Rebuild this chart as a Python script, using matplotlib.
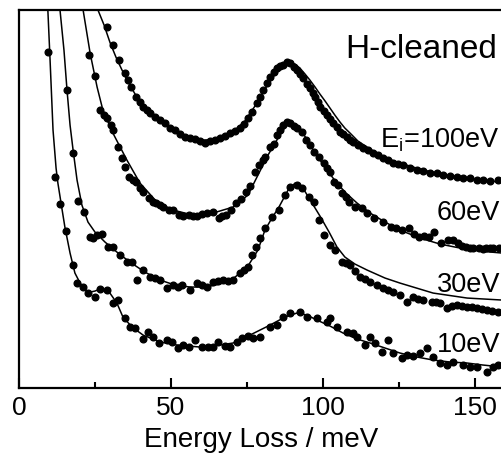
import numpy as np
import matplotlib
matplotlib.use("Agg")
import matplotlib.pyplot as plt

plt.rcParams['font.family'] = ['Liberation Sans', 'DejaVu Sans']

# measured spectra (energy loss in meV, intensity in arb. units, already offset)
e100_x = [28.9, 30.9, 32.9, 34.9, 35.9, 36.8, 38.5, 39.8, 40.8, 42.1, 43.1, 44.7, 46.4, 48.0, 49.7,
          51.3, 53.0, 54.6, 56.3, 57.9, 59.5, 61.2, 62.8, 64.5, 66.1, 67.8, 69.4, 71.1, 72.7, 74.0,
          75.3, 76.6, 78.3, 79.3, 80.3, 81.6, 82.6, 83.9, 84.9, 85.9, 86.8, 88.2, 89.1, 90.5, 91.4,
          92.4, 93.4, 94.7, 95.7, 96.7, 97.4, 98.4, 99.0, 100.3, 101.3, 102.3, 103.3, 104.6, 105.6,
          106.6, 107.9, 108.9, 109.9, 111.5, 113.2, 114.8, 116.4, 118.1, 119.7, 121.4, 123.0, 124.7,
          126.3, 128.6, 130.9, 132.9, 135.2, 137.5, 139.5, 141.8, 144.1, 146.1, 148.4, 150.7, 152.6,
          154.9, 157.6]
e100_y = [361, 343, 328, 315, 308, 301, 291, 286, 281, 278, 275, 271, 268, 265, 260,
          258, 254, 251, 250, 249, 247, 245, 247, 248, 250, 252, 255, 257, 260, 264,
          270, 276, 285, 291, 298, 305, 311, 316, 320, 322, 323, 326, 325, 321, 318,
          314, 310, 304, 300, 295, 291, 286, 281, 277, 273, 269, 265, 261, 256,
          254, 251, 248, 246, 243, 240, 238, 235, 233, 230, 228, 225, 224,
          223, 220, 218, 217, 215, 215, 213, 212, 211, 210, 210, 208, 208,
          207, 208]

e60_x = [23.0, 25.0, 26.6, 28.0, 28.9, 30.3, 30.9, 32.6, 33.9, 34.9, 36.2, 37.5, 38.5, 39.8, 40.8,
         42.8, 44.1, 45.1, 46.4, 47.4, 49.3, 50.7, 52.6, 53.9, 55.9, 57.2, 58.6, 60.2, 61.8, 63.8,
         65.8, 66.8, 68.1, 69.7, 71.4, 73.0, 74.7, 76.0, 77.6, 78.9, 80.3, 80.9, 82.6, 83.9, 84.9,
         85.9, 86.8, 88.2, 89.1, 90.5, 91.4, 93.1, 94.4, 95.7, 97.0, 98.7, 100.3, 101.3, 102.3,
         103.6, 104.9, 106.3, 107.6, 108.6, 110.5, 112.8, 114.5, 116.8, 119.7, 122.4, 124.0, 126.0,
         128.3, 129.9, 131.6, 133.2, 134.9, 136.5, 138.8, 141.1, 142.8, 144.4, 145.7, 147.0, 148.4,
         149.3, 151.3, 152.6, 153.6, 154.9, 155.9, 157.9]
e60_y = [333, 312, 278, 273, 270, 263, 258, 241, 230, 221, 211, 208, 206, 200, 196,
         190, 186, 185, 183, 181, 178, 178, 173, 172, 173, 172, 172, 174, 175, 176,
         170, 172, 173, 178, 185, 189, 196, 202, 216, 223, 228, 231, 241, 244, 253,
         258, 263, 266, 265, 262, 260, 256, 248, 243, 236, 231, 225, 220, 216,
         206, 203, 195, 191, 186, 181, 180, 175, 170, 166, 161, 160, 158,
         160, 154, 151, 152, 151, 156, 145, 148, 148, 145, 142, 141, 140,
         140, 140, 139, 140, 140, 140, 140]

e30_x = [15.8, 17.8, 19.4, 21.4, 23.4, 24.3, 25.7, 27.3, 29.3, 30.9, 33.2, 35.5, 37.2, 38.8, 40.8,
         43.1, 44.7, 46.4, 48.7, 50.7, 52.3, 53.6, 56.3, 58.6, 60.2, 61.8, 63.8, 65.5, 67.1, 68.8,
         70.4, 72.7, 74.0, 75.3, 76.6, 78.0, 79.3, 80.9, 83.2, 85.5, 87.5, 89.1, 91.4, 93.1, 95.4,
         97.0, 98.7, 100.3, 102.3, 103.9, 106.3, 107.6, 108.9, 110.5, 112.2, 113.8, 115.5, 117.8,
         119.7, 121.4, 123.0, 125.3, 127.6, 129.6, 131.3, 132.9, 135.9, 137.2, 138.5, 140.8, 142.4,
         144.1, 145.7, 147.4, 149.0, 150.7, 152.3, 153.9, 155.6, 157.6]
e30_y = [298, 235, 187, 176, 151, 150, 153, 154, 141, 141, 133, 126, 126, 108, 118,
         111, 110, 108, 100, 103, 101, 103, 98, 105, 103, 101, 106, 107, 108, 107,
         108, 115, 118, 121, 133, 141, 150, 160, 171, 178, 193, 201, 203, 200, 191,
         186, 168, 153, 143, 138, 126, 125, 123, 117, 111, 109, 106, 103,
         100, 98, 96, 93, 86, 91, 89, 88, 86, 86, 85, 80, 82,
         83, 82, 81, 81, 80, 79, 78, 77, 76]

e10_x = [9.5, 11.8, 13.5, 15.5, 17.8, 19.1, 21.1, 22.7, 25.0, 26.6, 28.9, 30.9, 32.6, 34.9, 36.5,
         38.2, 40.8, 42.4, 44.1, 46.1, 48.7, 50.3, 52.3, 53.9, 55.9, 57.9, 60.2, 62.2, 63.8, 65.5,
         67.8, 69.4, 71.7, 73.4, 75.3, 77.0, 79.3, 82.6, 84.9, 86.8, 89.1, 92.4, 94.7, 98.0, 101.3,
         102.3, 104.6, 107.9, 109.9, 111.2, 113.8, 115.5, 117.1, 119.4, 121.4, 123.0, 126.0, 127.6,
         129.6, 131.9, 134.2, 136.2, 138.5, 140.8, 142.8, 146.1, 148.4, 150.7, 153.9, 155.9, 157.6]
e10_y = [336, 211, 184, 157, 123, 105, 101, 95, 91, 99, 98, 85, 88, 70, 61,
         60, 49, 56, 51, 45, 48, 46, 40, 43, 41, 48, 41, 41, 41, 46,
         42, 41, 46, 50, 52, 50, 51, 61, 63, 71, 75, 76, 71, 70, 66,
         70, 61, 56, 55, 51, 43, 51, 45, 36, 48, 35, 30, 33,
         32, 35, 40, 31, 25, 23, 26, 23, 21, 21, 16, 21, 23]

# fitted curves
fit100_x = [25.6, 26.0, 28.0, 29.9, 31.9, 33.9, 35.9, 38.2, 40.5, 43.1, 46.4, 49.7, 53.6, 57.9, 61.2,
            64.5, 67.8, 71.1, 74.3, 77.6, 80.9, 84.2, 86.8, 89.1, 90.8, 92.4, 94.1, 95.7, 97.4,
            99.0, 100.7, 102.3, 103.9, 105.6, 107.2, 108.9, 111.5, 114.5, 119.7, 125.3, 131.9,
            138.5, 145.1, 151.6, 158.9]
fit100_y = [392, 378, 363, 346, 331, 318, 306, 294, 284, 275, 267, 260, 253, 249, 248,
            249, 252, 258, 267, 282, 299, 314, 322, 326, 324, 320, 314, 308, 301,
            294, 287, 280, 273, 266, 260, 255, 247, 241, 231, 225, 219,
            214, 211, 208, 206]

fit60_x = [20.7, 21.1, 23.4, 25.7, 27.6, 30.9, 35.5, 39.8, 45.4, 50.7, 57.2, 63.8, 70.4, 75.3, 78.6,
           81.9, 85.2, 87.5, 89.1, 91.1, 93.4, 96.4, 99.7, 103.3, 107.2, 111.2, 115.5, 120.4, 125.3,
           131.9, 138.5, 145.1, 151.6, 158.9]
fit60_y = [393, 378, 335, 301, 278, 255, 228, 205, 186, 178, 173, 175, 181, 193, 213,
           233, 250, 261, 265, 263, 255, 240, 225, 210, 196, 185, 175, 166, 158,
           150, 144, 140, 137, 135]

fit30_x = [13.3, 13.5, 14.8, 15.8, 16.8, 17.8, 19.1, 20.7, 22.7, 25.0, 28.3, 32.6, 36.5, 41.4, 46.4,
           51.3, 56.3, 61.2, 66.1, 71.1, 75.3, 78.6, 80.9, 83.2, 85.5, 88.5, 90.8, 93.4, 96.4, 99.0,
           102.0, 104.6, 107.2, 110.5, 114.5, 120.4, 125.3, 136.2, 147.4, 158.9]
fit30_y = [393, 378, 338, 298, 263, 238, 208, 183, 166, 156, 146, 135, 126, 116, 108,
           103, 101, 101, 104, 111, 122, 138, 158, 170, 181, 198, 205, 200, 185, 172,
           156, 141, 131, 124, 118, 110, 105, 95, 90, 88]

fit10_x = [9.3, 9.5, 10.2, 11.2, 12.2, 12.8, 14.1, 15.1, 16.8, 18.4, 20.1, 21.7, 23.4, 25.0, 26.6,
           28.3, 29.9, 32.2, 34.2, 37.2, 40.8, 46.4, 52.0, 59.5, 66.1, 70.4, 76.0, 82.6, 87.5, 91.4,
           94.7, 98.0, 102.3, 106.6, 111.2, 115.5, 120.4, 125.3, 130.9, 136.2, 141.8, 147.4, 152.6,
           158.9]
fit10_y = [393, 378, 330, 258, 220, 205, 180, 161, 135, 115, 105, 98, 96, 97, 99,
           97, 95, 85, 71, 61, 53, 46, 43, 41, 43, 45, 53, 63, 71, 75,
           73, 68, 62, 55, 49, 45, 40, 35, 31, 28, 26, 25, 23,
           21]

labels = ["E$_\\mathregular{i}$=100eV", "60eV", "30eV", "10eV"]
label_y = [241, 168, 96, 36]

spectra = [(e100_x, e100_y, fit100_x, fit100_y),
           (e60_x, e60_y, fit60_x, fit60_y),
           (e30_x, e30_y, fit30_x, fit30_y),
           (e10_x, e10_y, fit10_x, fit10_y)]

fig = plt.figure(figsize=(5.02, 4.58), dpi=100)
ax = fig.add_axes([0.0378, 0.1528, 0.963, 0.825])

for (dx, dy, fx, fy), lab, ly in zip(spectra, labels, label_y):
    ax.plot(fx, fy, color="black", lw=1.1, zorder=2)
    ax.plot(dx, dy, "o", color="black", ms=4.8, mec="black", zorder=3)
    ax.text(158.2, ly, lab, ha="right", va="baseline", fontsize=19.5)

ax.text(157.4, 330, "H-cleaned", ha="right", va="baseline", fontsize=24)

ax.set_xlim(0, 159)
ax.set_ylim(0, 378)
ax.set_xticks([0, 50, 100, 150])
ax.set_xticks([25, 75, 125], minor=True)
ax.set_yticks([])
ax.tick_params(axis="x", which="major", direction="in", length=7, width=1.5,
               labelsize=19, pad=6)
ax.tick_params(axis="x", which="minor", direction="in", length=4, width=1.5)
for s in ["left", "bottom", "top"]:
    ax.spines[s].set_linewidth(1.6)
ax.spines["right"].set_visible(False)
ax.set_xlabel("Energy Loss / meV", fontsize=20, labelpad=5)

fig.savefig("out.png", dpi=100)
